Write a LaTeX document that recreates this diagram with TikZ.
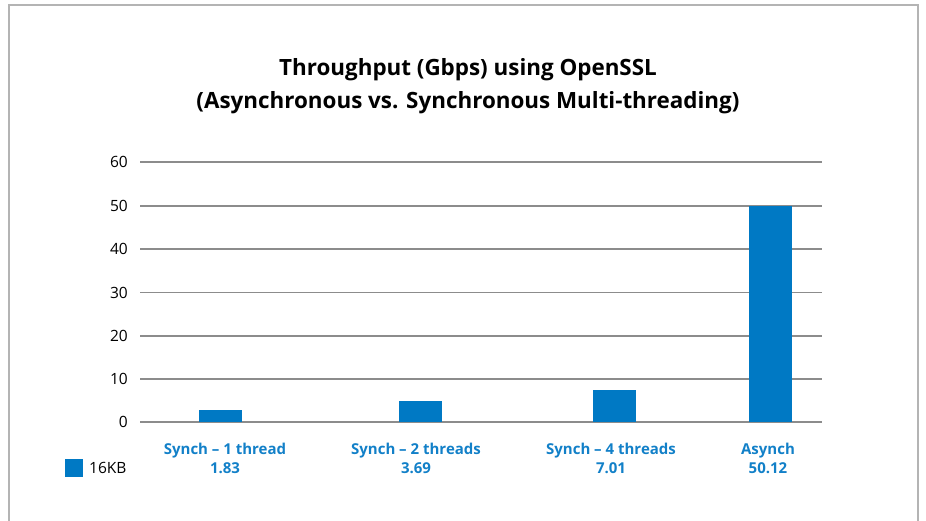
\documentclass[tikz,border=0pt]{standalone}
\usepackage{fontspec}
\setmainfont{Open Sans}
\definecolor{barblue}{HTML}{0079C4}
\definecolor{lblblue}{HTML}{1280C8}
\definecolor{gridgray}{HTML}{8C8C8C}
\definecolor{framegray}{HTML}{B4B4B4}
\begin{document}
\begin{tikzpicture}[x=1pt,y=-1pt,
  grid/.style={draw=gridgray,line width=1.2pt},
  bar/.style={fill=barblue,draw=none},
  ylab/.style={anchor=east,font=\fontsize{15.5}{17}\selectfont,inner sep=0pt},
  catlab/.style={align=center,font=\fontsize{15}{19}\selectfont\bfseries,text=lblblue,inner sep=0pt},
  ttl/.style={align=center,font=\fontsize{22.4}{33}\selectfont\bfseries,inner sep=0pt}]
\useasboundingbox (0,0) rectangle (926,521);
\draw[framegray,line width=2pt] (9,530) -- (9,5) -- (918,5) -- (918,530);
\node[ttl] (title) at (468,86) {Throughput (Gbps) using OpenSSL\\(Asynchronous vs. Synchronous Multi-threading)};
\foreach \v/\yy in {0/422,10/379,20/336,30/292.5,40/249,50/206,60/162}{
  \draw[grid] (140,\yy) coordinate (gl\v) -- (822,\yy) coordinate (gr\v);
  \node[ylab] (y\v) at (128,\yy) {\v};
}
\fill[bar] (199,410) rectangle (242,422);
\fill[bar] (399,401) rectangle (442,422);
\fill[bar] (593,390) rectangle (636,422);
\fill[bar] (749,206) rectangle (792,422);
\node[catlab] (c1) at (225,458.5) {Synch – 1 thread\\1.83};
\node[catlab] (c2) at (416,458.5) {Synch – 2 threads\\3.69};
\node[catlab] (c3) at (611,458.5) {Synch – 4 threads\\7.01};
\node[catlab] (c4) at (768,458.5) {Asynch\\50.12};
\fill[bar] (65,459) rectangle (83,477);
\node[anchor=west,font=\fontsize{15.5}{17}\selectfont,inner sep=0pt] (leg) at (89,468) {16KB};
\end{tikzpicture}
\end{document}
